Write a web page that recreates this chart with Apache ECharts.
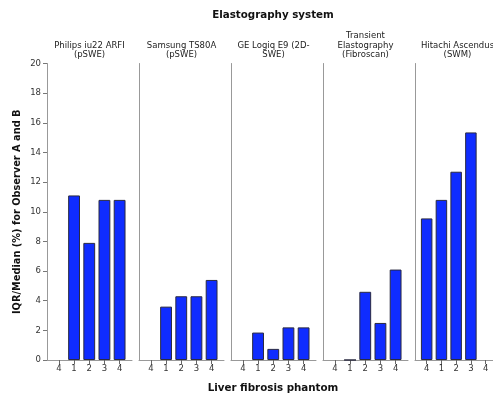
<!DOCTYPE html>
<html>
<head>
    <meta charset="utf-8">
    <title>Elastography system</title>
    <script src="https://cdn.jsdelivr.net/npm/echarts/dist/echarts.min.js"></script>
    <style>
        html, body { margin: 0; padding: 0; background: #fff; }
    </style>
</head>
<body>
    <div id="main" style="width: 493px;height:393px;"></div>
    <script>
        // phantom categories shown under each panel
        var phantoms = ['4', '1', '2', '3', '4'];
        var systems = [
            'Philips iu22 ARFI\n(pSWE)',
            'Samsung TS80A\n(pSWE)',
            'GE Logiq E9 (2D-\nSWE)',
            'Transient\nElastography\n(Fibroscan)',
            'Hitachi Ascendus\n(SWM)'
        ];
        // IQR/Median (%) per phantom, one array per system
        var philips = ['-', 11.1, 7.9, 10.8, 10.8];
        var samsung = ['-', 3.6, 4.3, 4.3, 5.4];
        var geLogiq = ['-', 1.85, 0.75, 2.2, 2.2];
        var fibroscan = ['-', 0, 4.6, 2.5, 6.1];
        var hitachi = [9.55, 10.8, 12.7, 15.35, '-'];
        var values = [philips, samsung, geLogiq, fibroscan, hitachi];

        var FONT = 'DejaVu Sans';
        var top0 = 63.5, bottom0 = 360;
        var panelLeft = 47, panelStep = 92, panelWidth = 85, pad = 4.3;

        var grids = [], xAxes = [], yAxes = [], series = [], titles = [];

        titles.push({
            text: 'Elastography system',
            left: 273, top: 10, textAlign: 'center', padding: 0,
            textStyle: { fontFamily: FONT, fontSize: 10.3, fontWeight: 'bold', color: '#111' }
        });

        for (var i = 0; i < systems.length; i++) {
            var x0 = panelLeft + panelStep * i;
            // frame grid (axis lines)
            grids.push({ left: x0, top: top0, width: panelWidth, height: bottom0 - top0 });
            xAxes.push({
                gridIndex: 2 * i, type: 'value', min: 0, max: 1,
                axisLine: { show: true, lineStyle: { color: '#999', width: 1 } },
                axisTick: { show: false }, axisLabel: { show: false }, splitLine: { show: false }
            });
            yAxes.push({
                gridIndex: 2 * i, type: 'value', min: 0, max: 20, interval: 2,
                axisLine: { show: true, lineStyle: { color: '#999', width: 1 } },
                axisTick: { show: i === 0, length: 4, lineStyle: { color: '#777' } },
                axisLabel: { show: i === 0, margin: 6, fontFamily: FONT, fontSize: 8.5, color: '#333' },
                splitLine: { show: false },
                name: i === 0 ? 'IQR/Median (%) for Observer A and B' : '',
                nameLocation: 'middle', nameGap: 25,
                nameTextStyle: { fontFamily: FONT, fontSize: 9.8, fontWeight: 'bold', color: '#111' }
            });
            // data grid (bars and category ticks)
            grids.push({ left: x0 + pad, top: top0, width: panelWidth - 2 * pad - 0.5, height: bottom0 - top0 });
            xAxes.push({
                gridIndex: 2 * i + 1, type: 'category', data: phantoms,
                axisLine: { show: false },
                axisTick: { show: true, alignWithLabel: true, length: 4, lineStyle: { color: '#666' } },
                axisLabel: { margin: 4, fontFamily: FONT, fontSize: 8.5, color: '#333' }
            });
            yAxes.push({
                gridIndex: 2 * i + 1, type: 'value', min: 0, max: 20, show: false
            });
            series.push({
                type: 'bar', xAxisIndex: 2 * i + 1, yAxisIndex: 2 * i + 1,
                data: values[i], barWidth: '78%',
                itemStyle: { color: '#0f2cff', borderColor: '#2a2a40', borderWidth: 1 }
            });
            titles.push({
                text: systems[i],
                left: x0 + panelWidth / 2, bottom: 393 - 60, textAlign: 'center', padding: 0,
                textStyle: { fontFamily: FONT, fontSize: 8.5, fontWeight: 'normal', color: '#222', lineHeight: 9.5 }
            });
        }

        titles.push({
            text: 'Liver fibrosis phantom',
            left: 273, top: 383, textAlign: 'center', padding: 0,
            textStyle: { fontFamily: FONT, fontSize: 10.3, fontWeight: 'bold', color: '#111' }
        });

        var myChart = echarts.init(document.getElementById('main'));
        myChart.setOption({
            animation: false,
            title: titles,
            grid: grids,
            xAxis: xAxes,
            yAxis: yAxes,
            series: series
        });
    </script>
</body>
</html>
